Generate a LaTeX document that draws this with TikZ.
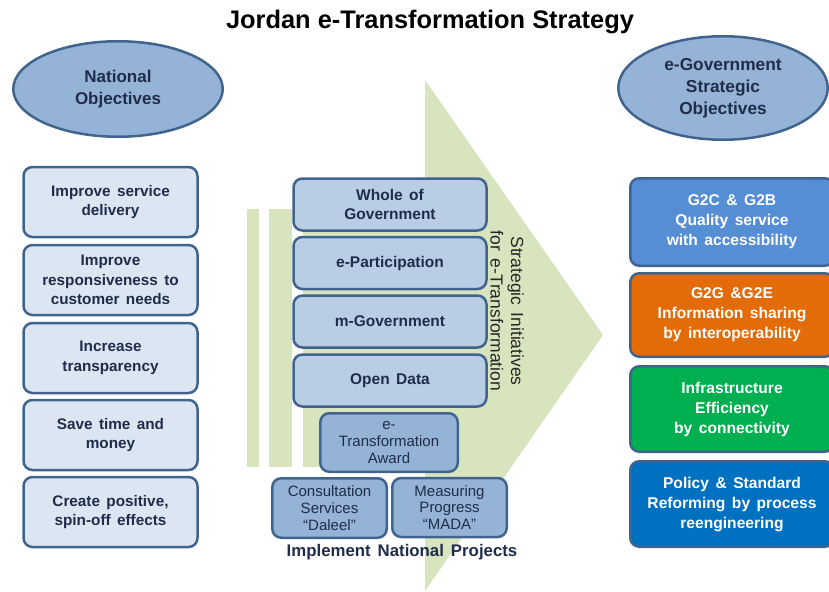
\documentclass[tikz,border=0pt]{standalone}
\usepackage{fontspec}
\setmainfont{Liberation Sans}[WordSpace=1.5]
\newfontfamily\titlefont{Liberation Sans}
\usetikzlibrary{shapes.geometric}
\definecolor{arrowgreen}{HTML}{D7E4BD}
\definecolor{edgeblue}{HTML}{41648F}
\definecolor{palebox}{HTML}{DCE6F2}
\definecolor{midbox}{HTML}{B9CDE5}
\definecolor{ellfill}{HTML}{95B3D7}
\definecolor{navytext}{HTML}{1F2D4A}
\definecolor{gtwoc}{HTML}{558ED5}
\definecolor{gtwog}{HTML}{E36C09}
\definecolor{infra}{HTML}{00B050}
\definecolor{policy}{HTML}{0070C0}
\begin{document}
\begin{tikzpicture}[x=1pt,y=-1pt,
  basebox/.style={draw=edgeblue, line width=2.5pt, rounded corners=9pt, align=center, inner sep=0pt},
  leftbox/.style={basebox, fill=palebox, text=navytext, minimum width=174pt, minimum height=70pt, font=\bfseries\fontsize{15.3}{19.5}\selectfont},
  midboxst/.style={basebox, fill=midbox, text=navytext, minimum width=193pt, minimum height=52pt, font=\bfseries\fontsize{15.5}{19.5}\selectfont},
  smallbox/.style={basebox, fill=ellfill, text=navytext, font=\fontsize{15}{16.8}\selectfont},
  rightbox/.style={basebox, text=white, minimum width=203.5pt, font=\bfseries\fontsize{15.6}{20}\selectfont},
  oval/.style={ellipse, draw=edgeblue, line width=2.5pt, fill=ellfill, text=navytext, align=center, inner sep=0pt, font=\bfseries\fontsize{17}{22}\selectfont}
]
\useasboundingbox (0,0) rectangle (829,591);
\clip (0,0) rectangle (829,591);
% big green arrow
\fill[arrowgreen] (425,80) -- (603,335) -- (425,591) -- cycle;
\fill[arrowgreen] (247,209) rectangle (259,467);
\fill[arrowgreen] (269,209) rectangle (292,467);
\fill[arrowgreen] (303,209) rectangle (425.5,467);
% title
\node[font=\titlefont\bfseries\fontsize{25.4}{28}\selectfont] (title) at (430,22) {Jordan e-Transformation Strategy};
% ellipses
\node[oval, minimum width=209.5pt, minimum height=95.5pt] (natobj) at (118,89) {National\\Objectives};
\node[oval, minimum width=209.5pt, minimum height=103.5pt, font=\bfseries\fontsize{17.3}{22}\selectfont] (egovobj) at (723,88) {e-Government\\Strategic\\Objectives};
% left boxes
\node[leftbox] (l1) at (110.5,202) {Improve service\\delivery};
\node[leftbox] (l2) at (110.5,280) {Improve\\responsiveness to\\customer needs};
\node[leftbox] (l3) at (110.5,358) {Increase\\transparency};
\node[leftbox] (l4) at (110.5,435) {Save time and\\money};
\node[leftbox] (l5) at (110.5,512) {Create positive,\\spin-off effects};
% middle boxes
\node[midboxst] (m1) at (390,204.5) {Whole of\\Government};
\node[midboxst] (m2) at (390,263) {e-Participation};
\node[midboxst] (m3) at (390,321.5) {m-Government};
\node[midboxst] (m4) at (390,380.5) {Open Data};
\node[smallbox, minimum width=137.5pt, minimum height=58.5pt] (award) at (389,442.5) {e-\\Transformation\\Award};
\node[smallbox, minimum width=114.5pt, minimum height=59.5pt] (daleel) at (329.5,508) {Consultation\\Services\\“Daleel”};
\node[smallbox, minimum width=114.5pt, minimum height=59pt] (mada) at (449.5,507.5) {Measuring\\Progress\\“MADA”};
\node[text=navytext, font=\bfseries\fontsize{16.8}{18}\selectfont] (impl) at (402,552) {Implement National Projects};
% vertical label
\node[rotate=-90, align=center, text=black!85, font=\fontsize{17.5}{20.5}\selectfont] (strat) at (507,311) {Strategic Initiatives\\for e-Transformation};
% right boxes
\node[rightbox, fill=gtwoc, minimum height=87.5pt] (r1) at (732,222) {G2C \& G2B\\Quality service\\with accessibility};
\node[rightbox, fill=gtwog, minimum height=83.5pt] (r2) at (732,315) {G2G \&G2E\\Information sharing\\by interoperability};
\node[rightbox, fill=infra, minimum height=85.5pt] (r3) at (732,409) {Infrastructure\\Efficiency\\by connectivity};
\node[rightbox, fill=policy, minimum height=85.5pt] (r4) at (732,504) {Policy \& Standard\\Reforming by process\\reengineering};
\end{tikzpicture}
\end{document}
